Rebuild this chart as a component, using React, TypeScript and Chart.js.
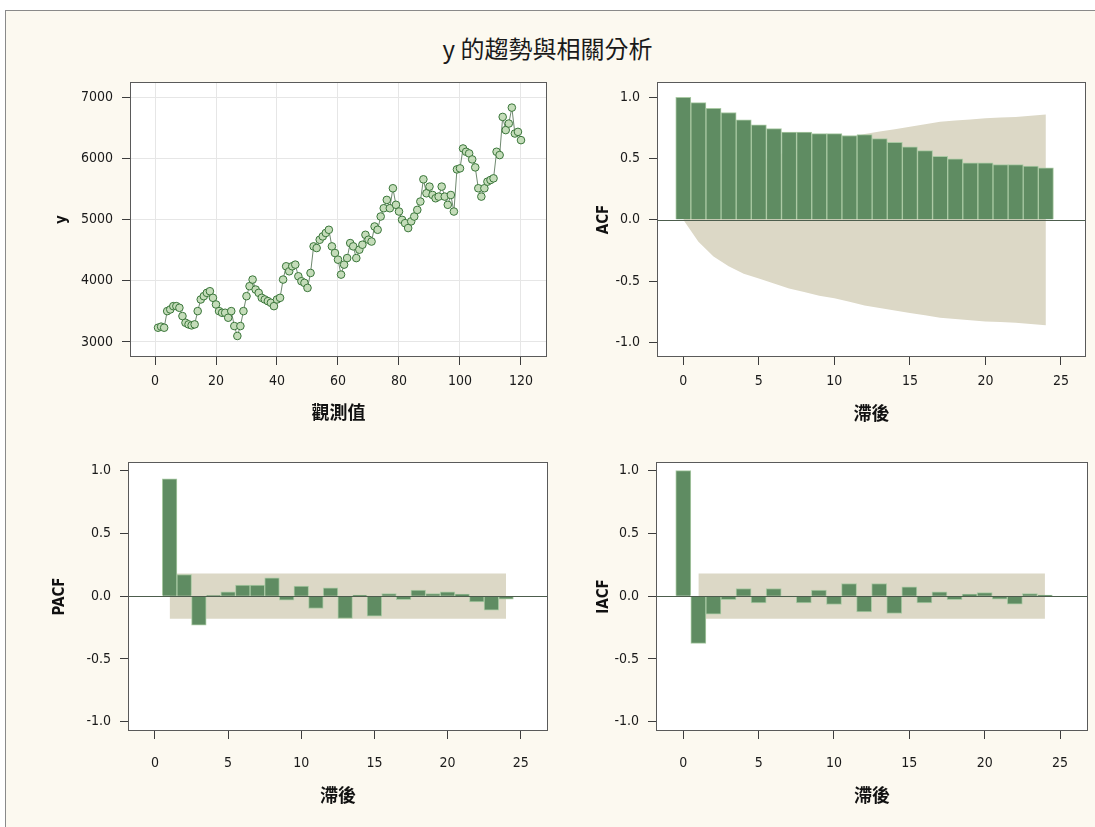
import React, { useEffect, useRef } from "react";
import { Chart, registerables } from "chart.js";

Chart.register(...registerables);

// ---------------- data ----------------
const yValues: number[] = [
  3233, 3250, 3233, 3504, 3531, 3585, 3585, 3558, 3423, 3314,
  3287, 3271, 3287, 3504, 3694, 3748, 3802, 3829, 3721, 3612,
  3504, 3477, 3477, 3396, 3504, 3260, 3098, 3260, 3504, 3748,
  3911, 4019, 3856, 3802, 3721, 3694, 3667, 3640, 3585, 3694,
  3721, 4019, 4236, 4154, 4236, 4263, 4073, 3992, 3965, 3883,
  4127, 4561, 4534, 4669, 4724, 4780, 4832, 4561, 4453, 4344,
  4100, 4263, 4370, 4615, 4561, 4370, 4507, 4588, 4750, 4670,
  4640, 4886, 4832, 5049, 5184, 5320, 5184, 5510, 5240, 5130,
  4995, 4940, 4860, 4970, 5049, 5157, 5293, 5656, 5428, 5537,
  5401, 5347, 5374, 5537, 5374, 5240, 5400, 5130, 5818, 5835,
  6160, 6106, 6079, 5981, 5851, 5510, 5374, 5510, 5618, 5645,
  5672, 6106, 6052, 6675, 6460, 6567, 6827, 6404, 6431, 6296,
];
const observations: number[] = yValues.map((_, i) => i + 1);

const acfLags = [0, 1, 2, 3, 4, 5, 6, 7, 8, 9, 10, 11, 12, 13, 14, 15, 16, 17, 18, 19, 20, 21, 22, 23, 24];
const acfValues = [
  1.0, 0.957, 0.91, 0.876, 0.816, 0.776, 0.745, 0.717, 0.717, 0.704,
  0.704, 0.688, 0.696, 0.663, 0.633, 0.595, 0.565, 0.519, 0.497, 0.465,
  0.465, 0.451, 0.451, 0.438, 0.424,
];
const acfBandLimit = [
  0, 0.18, 0.3, 0.38, 0.44, 0.48, 0.52, 0.56, 0.59, 0.62,
  0.64, 0.67, 0.7, 0.72, 0.74, 0.76, 0.78, 0.8, 0.81, 0.82,
  0.83, 0.835, 0.84, 0.85, 0.86,
];

const pacfLags = [1, 2, 3, 4, 5, 6, 7, 8, 9, 10, 11, 12, 13, 14, 15, 16, 17, 18, 19, 20, 21, 22, 23, 24];
const pacfValues = [
  0.934, 0.173, -0.231, 0.004, 0.035, 0.088, 0.088, 0.146, -0.032, 0.08,
  -0.098, 0.066, -0.178, 0.008, -0.16, 0.021, -0.027, 0.048, 0.021, 0.035,
  0.016, -0.045, -0.112, -0.024,
];

const iacfLags = [0, 1, 2, 3, 4, 5, 6, 7, 8, 9, 10, 11, 12, 13, 14, 15, 16, 17, 18, 19, 20, 21, 22, 23, 24];
const iacfValues = [
  1.0, -0.376, -0.144, -0.027, 0.061, -0.053, 0.061, -0.005, -0.053, 0.048,
  -0.066, 0.101, -0.125, 0.101, -0.138, 0.074, -0.053, 0.035, -0.027, 0.016,
  0.029, -0.024, -0.064, 0.021, 0.008,
];

const noiseBandLags = [1, 24];
const noiseBandLimit = [0.18, 0.18];

const obsTicks = [0, 20, 40, 60, 80, 100, 120];
const valueTicks = [3000, 4000, 5000, 6000, 7000];
const lagTicks = [0, 5, 10, 15, 20, 25];
const corrTicks = [-1, -0.5, 0, 0.5, 1];

const mainTitle = "y 的趨勢與相關分析";

// ---------------- styles ----------------
const BAR = "#5f8c62";
const BAR_EDGE = "#a9c9a3";
const BAND = "#dcd8c6";
const TICK_FONT = { family: "'DejaVu Sans Condensed', 'DejaVu Sans', sans-serif", size: 14 };
const LATIN_TITLE_FONT = { family: "'DejaVu Sans Condensed', 'DejaVu Sans', sans-serif", size: 15, weight: "bold" as const };
const CJK_TITLE_FONT = { family: "'Noto Sans CJK TC', sans-serif", size: 18, weight: "bold" as const };

type Box = { x: number; y: number; w: number; h: number };
type Area = { l: number; t: number; r: number; b: number };
type Spec = {
  type: "line" | "bar";
  box: Box;
  area: Area;
  xRange: [number, number];
  yRange: [number, number];
  xTicks: number[];
  yTicks: number[];
  xTitle: string;
  yTitle: string;
  xTitleY: number;
  yTitleX: number;
  xLabelPad: number;
  gridOnArea: boolean;
  yFormat: (v: number) => string;
  zeroLine: boolean;
  datasets: any[];
};

function pts(xs: number[], ys: number[], sign = 1) {
  return xs.map((x, i) => ({ x, y: sign * ys[i] }));
}

function barSet(xs: number[], ys: number[]) {
  return {
    type: "bar",
    data: pts(xs, ys),
    backgroundColor: BAR,
    borderColor: BAR_EDGE,
    borderWidth: 1,
    barPercentage: 1,
    categoryPercentage: 1,
    order: 1,
  };
}

function bandSets(xs: number[], limits: number[]) {
  const common = {
    type: "line",
    borderWidth: 0,
    borderColor: "rgba(0,0,0,0)",
    pointRadius: 0,
    tension: 0,
    order: 2,
  };
  return [
    { ...common, data: pts(xs, limits, 1), fill: "+1", backgroundColor: BAND },
    { ...common, data: pts(xs, limits, -1), fill: false },
  ];
}

function buildConfig(s: Spec) {
  const lhX = CJK_TITLE_FONT.size * 1.2;
  const lhY = LATIN_TITLE_FONT.size * 1.2;
  const yW = s.area.l - s.box.x;
  const xH = s.box.y + s.box.h - s.area.b;
  const framePlugin = {
    id: "panelFrame",
    beforeDraw(chart: any) {
      const { ctx, chartArea: a } = chart;
      ctx.save();
      ctx.fillStyle = "#ffffff";
      ctx.fillRect(a.left, a.top, a.right - a.left, a.bottom - a.top);
      ctx.restore();
    },
    afterDatasetsDraw(chart: any) {
      if (!s.zeroLine) return;
      const { ctx, chartArea: a } = chart;
      const y = Math.round(chart.scales.y.getPixelForValue(0)) + 0.5;
      ctx.save();
      ctx.strokeStyle = "#4d5d4d";
      ctx.lineWidth = 1;
      ctx.beginPath();
      ctx.moveTo(a.left, y);
      ctx.lineTo(a.right, y);
      ctx.stroke();
      ctx.restore();
    },
    afterDraw(chart: any) {
      const { ctx, chartArea: a } = chart;
      ctx.save();
      ctx.strokeStyle = "#5a5a5a";
      ctx.lineWidth = 1;
      ctx.strokeRect(a.left - 0.5, a.top - 0.5, a.right - a.left + 1, a.bottom - a.top + 1);
      ctx.restore();
    },
  };
  return {
    type: s.type,
    data: { datasets: s.datasets },
    options: {
      responsive: false,
      animation: false,
      devicePixelRatio: 1,
      layout: {
        padding: { top: s.area.t - s.box.y, right: s.box.x + s.box.w - s.area.r, left: 0, bottom: 0 },
      },
      plugins: { legend: { display: false }, tooltip: { enabled: false } },
      scales: {
        x: {
          type: "linear",
          position: "bottom",
          min: s.xRange[0],
          max: s.xRange[1],
          offset: false,
          afterBuildTicks: (sc: any) => {
            sc.ticks = s.xTicks.map((v) => ({ value: v }));
          },
          afterFit: (sc: any) => {
            sc.height = xH;
            sc.paddingLeft = 0;
            sc.paddingRight = 0;
          },
          grid: {
            display: true,
            drawOnChartArea: s.gridOnArea,
            color: "#e6e6e6",
            tickColor: "#3c3c3c",
            tickLength: 9,
            offset: false,
          },
          border: { display: false },
          ticks: {
            font: TICK_FONT,
            color: "#1a1a1a",
            padding: s.xLabelPad,
            maxRotation: 0,
            autoSkip: false,
            callback: (v: any) => String(v),
          },
          title: {
            display: true,
            text: s.xTitle,
            font: CJK_TITLE_FONT,
            color: "#111",
            padding: { top: 0, bottom: s.box.y + s.box.h - s.xTitleY - lhX / 2 },
          },
        },
        y: {
          type: "linear",
          position: "left",
          min: s.yRange[0],
          max: s.yRange[1],
          afterBuildTicks: (sc: any) => {
            sc.ticks = s.yTicks.map((v) => ({ value: v }));
          },
          afterFit: (sc: any) => {
            sc.width = yW;
            sc.paddingTop = 0;
            sc.paddingBottom = 0;
          },
          grid: {
            display: true,
            drawOnChartArea: s.gridOnArea,
            color: "#e6e6e6",
            tickColor: "#3c3c3c",
            tickLength: 9,
          },
          border: { display: false },
          ticks: {
            font: TICK_FONT,
            color: "#1a1a1a",
            padding: 9,
            autoSkip: false,
            callback: (v: any) => s.yFormat(Number(v)),
          },
          title: {
            display: true,
            text: s.yTitle,
            font: LATIN_TITLE_FONT,
            color: "#111",
            padding: { top: s.yTitleX - s.box.x - lhY / 2, bottom: 0 },
          },
        },
      },
    },
    plugins: [framePlugin],
  };
}

const corrFormat = (v: number) => v.toFixed(1);

const specs: Spec[] = [
  {
    type: "line",
    box: { x: 30, y: 75, w: 530, h: 375 },
    area: { l: 131, t: 83, r: 546, b: 356 },
    xRange: [-7.87, 128.2],
    yRange: [2771, 7229],
    xTicks: obsTicks,
    yTicks: valueTicks,
    xTitle: "觀測值",
    yTitle: "y",
    xTitleY: 412,
    yTitleX: 62,
    xLabelPad: 8,
    gridOnArea: true,
    yFormat: (v) => String(v),
    zeroLine: false,
    datasets: [
      {
        type: "line",
        data: pts(observations, yValues),
        borderColor: "#6f896f",
        borderWidth: 1,
        pointRadius: 3.8,
        pointBorderWidth: 1,
        pointBorderColor: "#3a763a",
        pointBackgroundColor: "#c4dcb9",
        tension: 0,
        fill: false,
      },
    ],
  },
  {
    type: "bar",
    box: { x: 570, y: 75, w: 520, h: 375 },
    area: { l: 658, t: 83, r: 1085, b: 356 },
    xRange: [-1.675, 26.59],
    yRange: [-1.112, 1.117],
    xTicks: lagTicks,
    yTicks: corrTicks,
    xTitle: "滯後",
    yTitle: "ACF",
    xTitleY: 413,
    yTitleX: 604,
    xLabelPad: 8,
    gridOnArea: false,
    yFormat: corrFormat,
    zeroLine: true,
    datasets: [barSet(acfLags, acfValues), ...bandSets(acfLags, acfBandLimit)],
  },
  {
    type: "bar",
    box: { x: 30, y: 455, w: 530, h: 360 },
    area: { l: 129, t: 463, r: 547, b: 730 },
    xRange: [-1.777, 26.8],
    yRange: [-1.066, 1.061],
    xTicks: lagTicks,
    yTicks: corrTicks,
    xTitle: "滯後",
    yTitle: "PACF",
    xTitleY: 795,
    yTitleX: 60,
    xLabelPad: 16,
    gridOnArea: false,
    yFormat: corrFormat,
    zeroLine: true,
    datasets: [barSet(pacfLags, pacfValues), ...bandSets(noiseBandLags, noiseBandLimit)],
  },
  {
    type: "bar",
    box: { x: 570, y: 455, w: 520, h: 360 },
    area: { l: 657, t: 463, r: 1087, b: 730 },
    xRange: [-1.745, 26.79],
    yRange: [-1.066, 1.061],
    xTicks: lagTicks,
    yTicks: corrTicks,
    xTitle: "滯後",
    yTitle: "IACF",
    xTitleY: 795,
    yTitleX: 604,
    xLabelPad: 16,
    gridOnArea: false,
    yFormat: corrFormat,
    zeroLine: true,
    datasets: [barSet(iacfLags, iacfValues), ...bandSets(noiseBandLags, noiseBandLimit)],
  },
];

function ChartCanvas({ spec }: { spec: Spec }) {
  const ref = useRef<HTMLCanvasElement>(null);
  useEffect(() => {
    const chart = new Chart(ref.current as HTMLCanvasElement, buildConfig(spec) as any);
    return () => chart.destroy();
  }, [spec]);
  return (
    <canvas
      ref={ref}
      width={spec.box.w}
      height={spec.box.h}
      style={{ position: "absolute", left: spec.box.x, top: spec.box.y, width: spec.box.w, height: spec.box.h }}
    />
  );
}

export default function App() {
  return (
    <div style={{ position: "fixed", left: 0, top: 0, width: 1095, height: 827, overflow: "hidden", background: "#ffffff" }}>
      <div
        style={{
          position: "absolute",
          left: 5,
          top: 10,
          width: 1200,
          height: 1000,
          border: "1px solid #8a8a8a",
          background: "#fcf9f0",
        }}
      />
      <div
        style={{
          position: "absolute",
          left: 0,
          top: 34,
          width: 1095,
          textAlign: "center",
          fontFamily: "'Noto Sans CJK TC', sans-serif",
          fontSize: 24,
          lineHeight: "28px",
          color: "#1a1a1a",
        }}
      >
        {mainTitle}
      </div>
      {specs.map((s, i) => (
        <ChartCanvas key={i} spec={s} />
      ))}
    </div>
  );
}
